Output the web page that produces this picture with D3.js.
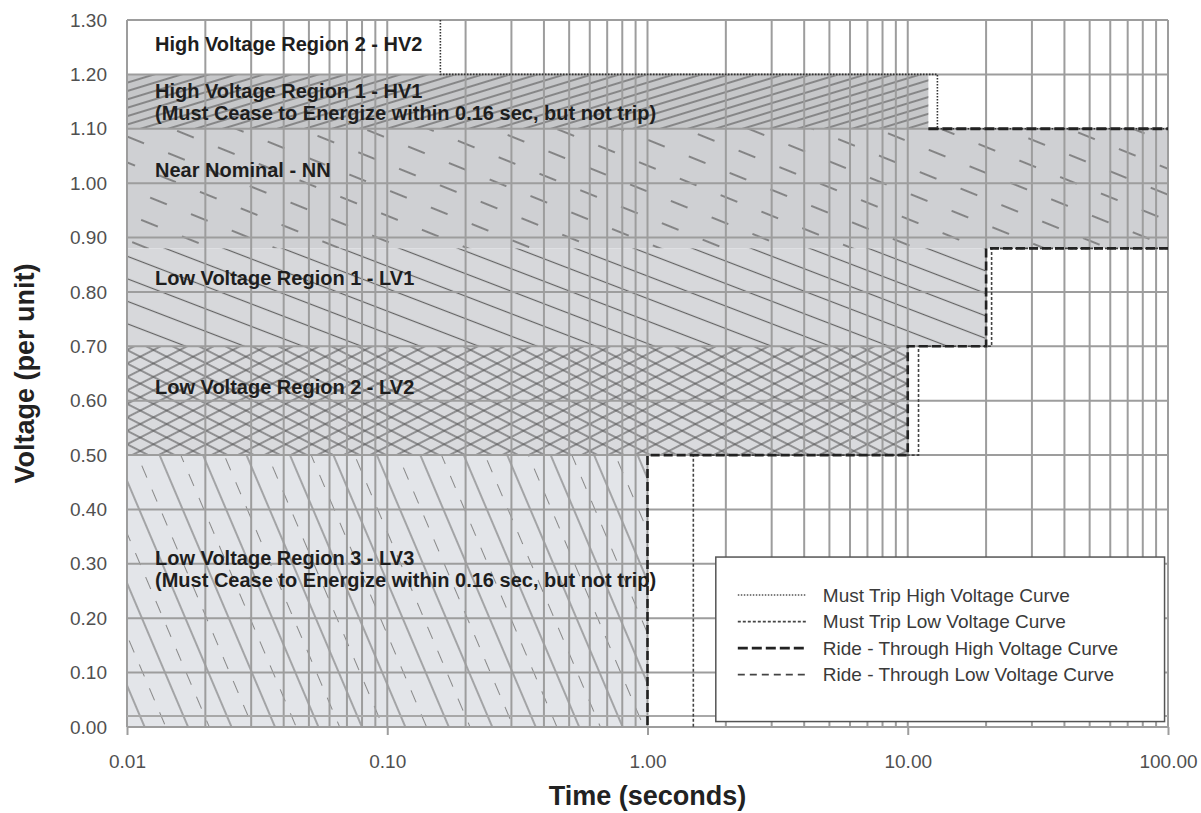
<!DOCTYPE html>
<html>
<head>
<meta charset="utf-8">
<script src="https://cdn.jsdelivr.net/npm/d3@7"></script>
<style>
  body { margin: 0; background: #fff; }
  svg text { font-family: "Liberation Sans", Arial, sans-serif; }
</style>
</head>
<body>
<div id="chart"></div>
<script>
// voltage regions (per unit) and how far in time each shaded band runs
var regionKeys  = ["HV2", "HV1", "NN", "LV1", "LV2", "LV3"];
var regionLow   = [1.20, 1.10, 0.88, 0.70, 0.50, 0.00];
var regionHigh  = [1.30, 1.20, 1.10, 0.88, 0.70, 0.50];
var regionEnd   = [0.01, 12, 100, 20, 10, 1];
var regionLabels = [
  ["High Voltage Region 2 - HV2"],
  ["High Voltage Region 1 - HV1", "(Must Cease to Energize within 0.16 sec, but not trip)"],
  ["Near Nominal - NN"],
  ["Low Voltage Region 1 - LV1"],
  ["Low Voltage Region 2 - LV2"],
  ["Low Voltage Region 3 - LV3", "(Must Cease to Energize within 0.16 sec, but not trip)"]
];
var labelVolt = [1.255, 1.17, 1.025, 0.825, 0.625, 0.31];

// curves: [time (s), voltage (pu)]
var mustTripHV    = [[0.16, 1.30], [0.16, 1.20], [13, 1.20], [13, 1.10], [100, 1.10]];
var mustTripLV    = [[100, 0.88], [21, 0.88], [21, 0.70], [11, 0.70], [11, 0.50], [1.5, 0.50], [1.5, 0.00]];
var rideThroughHV = [[12, 1.10], [100, 1.10]];
var rideThroughLV = [[100, 0.88], [20, 0.88], [20, 0.70], [10, 0.70], [10, 0.50], [1, 0.50], [1, 0.00]];

var legendNames = ["Must Trip High Voltage Curve", "Must Trip Low Voltage Curve",
                   "Ride - Through High Voltage Curve", "Ride - Through Low Voltage Curve"];

var xTicks = [0.01, 0.1, 1, 10, 100];
var yTicks = d3.range(0, 14).map(function(i) { return i / 10; });

var fullWidth = 1201, fullHeight = 813;
var margin = {top: 20, right: 33, bottom: 86, left: 127},
    width = fullWidth - margin.left - margin.right,
    height = fullHeight - margin.top - margin.bottom;

var xScale = d3.scaleLog().domain([0.01, 100]).range([0, width]);
var yScale = d3.scaleLinear().domain([0, 1.3]).range([height, 0]);

var svg = d3.select("#chart").append("svg")
    .attr("width", fullWidth)
    .attr("height", fullHeight);

var defs = svg.append("defs");

// hatch pattern: horizontal strokes in a tile, rotated
function hatch(id, angle, gap, period, dash, color, sw) {
  var p = defs.append("pattern")
      .attr("id", id)
      .attr("patternUnits", "userSpaceOnUse")
      .attr("width", period)
      .attr("height", gap)
      .attr("patternTransform", "rotate(" + angle + ")");
  p.append("line")
      .attr("x1", 0).attr("x2", dash)
      .attr("y1", gap / 2).attr("y2", gap / 2)
      .attr("stroke", color)
      .attr("stroke-width", sw);
  return p;
}

hatch("hv1", -17, 8, 20, 20, "#5a5a5a", 1.2);
hatch("nn", 22, 24, 44, 18, "#6a6a6a", 1.5);
hatch("lv1", 21, 21, 20, 20, "#626262", 1.2);
hatch("lv2a", 27, 12, 20, 20, "#545454", 1.1);
hatch("lv2b", -27, 12, 20, 20, "#545454", 1.1);
hatch("lv3a", 67, 40, 20, 20, "#6e6e6e", 1.1);
hatch("lv3b", 67, 40, 26, 13, "#888", 1)
  .select("line").attr("y1", 0.5).attr("y2", 0.5);

var fills = {HV2: "#fff", HV1: "#c6c7c9", NN: "#cfd0d3", LV1: "#d7d8db", LV2: "#d9dadd", LV3: "#e3e5e9"};
var hatches = {HV2: [], HV1: ["hv1"], NN: ["nn"], LV1: ["lv1"], LV2: ["lv2a", "lv2b"], LV3: ["lv3a", "lv3b"]};

var g = svg.append("g")
    .attr("transform", "translate(" + margin.left + "," + margin.top + ")");

// shaded regions
regionKeys.forEach(function(k, i) {
  if (regionEnd[i] <= 0.01) return;
  var r = {
    x: 0,
    y: yScale(regionHigh[i]),
    w: xScale(regionEnd[i]),
    h: yScale(regionLow[i]) - yScale(regionHigh[i])
  };
  g.append("rect")
      .attr("x", r.x).attr("y", r.y).attr("width", r.w).attr("height", r.h)
      .attr("fill", fills[k]);
  hatches[k].forEach(function(id) {
    g.append("rect")
        .attr("x", r.x).attr("y", r.y).attr("width", r.w).attr("height", r.h)
        .attr("fill", "url(#" + id + ")");
  });
});

// grid
var minorTicks = [];
[0.01, 0.1, 1, 10].forEach(function(d) {
  for (var m = 1; m < 10; m++) minorTicks.push(+(d * m).toPrecision(3));
});
minorTicks.push(100);

g.append("g").attr("class", "grid")
  .selectAll("line.v")
  .data(minorTicks)
  .enter().append("line")
    .attr("x1", function(d) { return xScale(d); })
    .attr("x2", function(d) { return xScale(d); })
    .attr("y1", 0).attr("y2", height)
    .attr("stroke", "#9d9d9d")
    .attr("stroke-width", 2);

g.append("g").attr("class", "grid")
  .selectAll("line.h")
  .data(yTicks)
  .enter().append("line")
    .attr("x1", 0).attr("x2", width)
    .attr("y1", function(d) { return yScale(d); })
    .attr("y2", function(d) { return yScale(d); })
    .attr("stroke", "#9d9d9d")
    .attr("stroke-width", 2);

// bottom strip line
g.append("line")
    .attr("x1", 0).attr("x2", width)
    .attr("y1", yScale(0) - 11).attr("y2", yScale(0) - 11)
    .attr("stroke", "#a8a8a8").attr("stroke-width", 2);

// axes
var xAxis = d3.axisBottom(xScale)
    .tickValues(xTicks)
    .tickSize(8)
    .tickPadding(20)
    .tickFormat(d3.format(".2f"));

var yAxis = d3.axisLeft(yScale)
    .tickValues(yTicks)
    .tickSize(0)
    .tickPadding(20)
    .tickFormat(d3.format(".2f"));

var gx = g.append("g")
    .attr("transform", "translate(0," + height + ")")
    .call(xAxis);
gx.select(".domain").remove();
gx.selectAll(".tick line").attr("stroke", "#9d9d9d").attr("stroke-width", 2);
gx.selectAll(".tick text").attr("fill", "#505050").style("font-size", "19px");

var gy = g.append("g").call(yAxis);
gy.select(".domain").remove();
gy.selectAll(".tick text").attr("fill", "#505050").style("font-size", "19px");

// curves
var line = d3.line()
    .x(function(d) { return xScale(d[0]); })
    .y(function(d) { return yScale(d[1]); });

var curveStyles = [
  {data: mustTripHV,    width: 1.6, dash: "1.5,1.5", color: "#333"},
  {data: mustTripLV,    width: 1.6, dash: "3,2",     color: "#444"},
  {data: rideThroughLV, width: 2.6, dash: "9,4",     color: "#222"},
  {data: rideThroughHV, width: 2.8, dash: "10,4",    color: "#222"}
];

curveStyles.forEach(function(c) {
  g.append("path")
      .datum(c.data)
      .attr("d", line)
      .attr("fill", "none")
      .attr("stroke", c.color)
      .attr("stroke-width", c.width)
      .attr("stroke-dasharray", c.dash);
});

// region labels
regionLabels.forEach(function(lines, i) {
  var t = g.append("text")
      .attr("x", 28)
      .attr("y", yScale(labelVolt[i]))
      .attr("fill", "#1e1e1e")
      .style("font-size", "20px")
      .style("font-weight", "bold");
  lines.forEach(function(s, j) {
    t.append("tspan")
        .attr("x", 28)
        .attr("dy", j === 0 ? "0.35em" : "1.1em")
        .text(s);
  });
});

// legend
var legendStyles = [
  {width: 1.6, dash: "1.5,1.5", color: "#555"},
  {width: 1.8, dash: "3,2",     color: "#444"},
  {width: 2.8, dash: "10,4",    color: "#222"},
  {width: 1.8, dash: "7,5",     color: "#444"}
];

var legendX0 = 1.83, legendX1 = 97, legendY0 = 0.3125, legendY1 = 0.01;

var legend = g.append("g")
    .attr("transform", "translate(" + xScale(legendX0) + "," + yScale(legendY0) + ")");

legend.append("rect")
    .attr("width", xScale(legendX1) - xScale(legendX0))
    .attr("height", yScale(legendY1) - yScale(legendY0))
    .attr("fill", "#fff")
    .attr("stroke", "#555")
    .attr("stroke-width", 1.5);

legendNames.forEach(function(name, i) {
  var row = legend.append("g")
      .attr("transform", "translate(0," + (38 + i * 26.5) + ")");
  row.append("line")
      .attr("x1", 22).attr("x2", 90)
      .attr("stroke", legendStyles[i].color)
      .attr("stroke-width", legendStyles[i].width)
      .attr("stroke-dasharray", legendStyles[i].dash);
  row.append("text")
      .attr("x", 107)
      .attr("dy", "0.35em")
      .attr("fill", "#3a3a3a")
      .style("font-size", "19px")
      .text(name);
});

// axis titles
svg.append("text")
    .attr("x", margin.left + xScale(1))
    .attr("y", 805)
    .attr("text-anchor", "middle")
    .attr("fill", "#222")
    .style("font-size", "27px")
    .style("font-weight", "bold")
    .text("Time (seconds)");

svg.append("text")
    .attr("transform", "translate(34," + (margin.top + yScale(0.65)) + ") rotate(-90)")
    .attr("text-anchor", "middle")
    .attr("fill", "#222")
    .style("font-size", "27px")
    .style("font-weight", "bold")
    .text("Voltage (per unit)");
</script>
</body>
</html>
